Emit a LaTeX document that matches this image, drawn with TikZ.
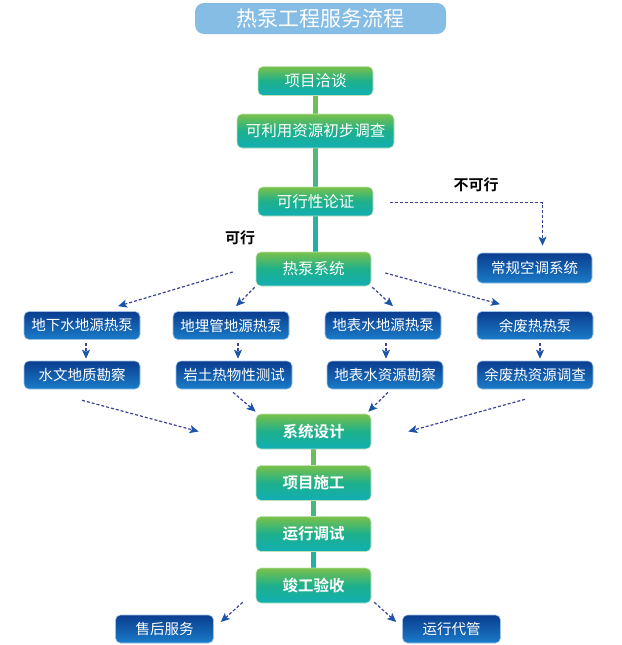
\documentclass[tikz,border=0pt]{standalone}
\usepackage{fontspec}
\setmainfont{Noto Sans CJK SC}[BoldFont={Noto Sans CJK SC Bold}]
\usepackage{xcolor}
\usepackage{tikz}
\usetikzlibrary{arrows.meta,backgrounds}

\definecolor{gTop}{HTML}{7AC14A}
\definecolor{gMid}{HTML}{1DB08C}
\definecolor{gBot}{HTML}{12AEB4}
\definecolor{gEdge}{HTML}{BFE3B5}
\definecolor{bTop}{HTML}{0B3D8F}
\definecolor{bBot}{HTML}{1A7CC8}
\definecolor{bEdge}{HTML}{9FC3E6}
\definecolor{tBlue}{HTML}{86BDE4}
\definecolor{dLine}{HTML}{3A4394}
\definecolor{dHead}{HTML}{1B55A8}

\begin{document}
\begin{tikzpicture}[
    x=1pt, y=-1pt,
    titlebox/.style={fill=tBlue, rounded corners=9pt, text=white, inner sep=0pt, minimum width=251pt, minimum height=31pt, font=\fontsize{21}{24}\selectfont},
    greenbox/.style={draw=gEdge, line width=0.6pt, top color=gTop, bottom color=gBot, middle color=gMid, rounded corners=5pt, text=white, inner sep=0pt, minimum width=115pt, minimum height=29pt, font=\fontsize{15.5}{17}\selectfont},
    stepbox/.style={greenbox, minimum height=35pt, font=\fontsize{15.5}{17}\selectfont\bfseries},
    bluebox/.style={draw=bEdge, line width=0.6pt, top color=bTop, bottom color=bBot, rounded corners=5pt, text=white, inner sep=0pt, minimum width=116pt, minimum height=28pt, font=\fontsize{14.5}{16}\selectfont},
    lbl/.style={text=black, font=\fontsize{15}{17}\selectfont\bfseries},
    vbar/.style={top color=gTop, bottom color=gBot},
    darr/.style={-{Stealth[length=9pt, width=8pt, inset=2pt, color=dHead]}, line width=1.2pt, draw=dLine, dash pattern=on 3pt off 2pt}
]
\useasboundingbox (0,0) rectangle (621,645);

% ===== TITLE =====
\node[titlebox] (title) at (320.5,18.5) {热泵工程服务流程};

% ===== MAIN FLOW =====
\node[greenbox] (xm) at (315.5,81) {项目洽谈};
\node[greenbox, minimum width=157pt, minimum height=34pt] (ky) at (315.5,131) {可利用资源初步调查};
\node[greenbox] (kx) at (315.5,201.5) {可行性论证};
\node[greenbox, minimum height=34pt] (hp) at (313.5,269) {热泵系统};
\node[bluebox, minimum width=115pt, minimum height=30pt] (cg) at (534.5,268) {常规空调系统};

\node[lbl] (nok) at (476,185) {不可行};
\node[lbl] (ok) at (240,238) {可行};

% ===== HEAT PUMP TYPES =====
\node[bluebox] (gw) at (82,325.5) {地下水地源热泵};
\node[bluebox] (gp) at (231,325.5) {地埋管地源热泵};
\node[bluebox] (sw) at (383,325.5) {地表水地源热泵};
\node[bluebox] (wh) at (535,325.5) {余废热热泵};

\node[bluebox] (gw2) at (82,375) {水文地质勘察};
\node[bluebox] (gp2) at (234,375) {岩土热物性测试};
\node[bluebox] (sw2) at (385,375) {地表水资源勘察};
\node[bluebox] (wh2) at (535,375) {余废热资源调查};

% ===== DESIGN AND BUILD =====
\node[stepbox] (sd) at (313.5,431.5) {系统设计};
\node[stepbox] (xs) at (313.5,483) {项目施工};
\node[stepbox] (yt) at (313.5,534) {运行调试};
\node[stepbox] (jg) at (313.5,585.5) {竣工验收};

\node[bluebox, minimum width=98pt] (sh) at (164.5,629) {售后服务};
\node[bluebox, minimum width=98pt] (yx) at (451.5,629) {运行代管};

\begin{scope}[on background layer]
\fill[white] (0,0) rectangle (621,645);
\fill[vbar] ([xshift=-2pt]xm.center) rectangle ([xshift=2pt]kx.center |- hp.center);
\fill[vbar] ([xshift=-2pt]sd.center) rectangle ([xshift=2pt]jg.center);
\end{scope}

% ===== DASHED ARROWS =====
\draw[darr] ([shift={(17,1)}]kx.east) -| ([shift={(8,-7)}]cg.north);

\draw[darr] ([shift={(-23,3)}]hp.west) -- ([shift={(36,-5)}]gw.north);
\draw[darr] ([shift={(-1,1)}]hp.south west) -- ([shift={(5,-5)}]gp.north);
\draw[darr] ([shift={(1,1)}]hp.south east) -- ([shift={(10,-5)}]sw.north);
\draw[darr] ([shift={(14,4)}]hp.east) -- ([shift={(-35,-7)}]wh.north);

\draw[darr, shorten <=3pt, shorten >=2pt] ([xshift=4pt]gw2.north |- gw.south) -- ([xshift=4pt]gw2.north);
\draw[darr, shorten <=3pt, shorten >=2pt] ([xshift=4pt]gp2.north |- gp.south) -- ([xshift=4pt]gp2.north);
\draw[darr, shorten <=3pt, shorten >=2pt] ([xshift=1pt]sw2.north |- sw.south) -- ([xshift=1pt]sw2.north);
\draw[darr, shorten <=3pt, shorten >=2pt] ([xshift=5pt]wh2.north |- wh.south) -- ([xshift=5pt]wh2.north);

\draw[darr] ([shift={(0,11)}]gw2.south) -- ([shift={(-57,0)}]sd.west);
\draw[darr] ([shift={(-1,3)}]gp2.south) -- ([shift={(0,-2)}]sd.north west);
\draw[darr] ([shift={(3,3)}]sw2.south) -- ([shift={(-3,-2)}]sd.north east);
\draw[darr] ([shift={(-10,10)}]wh2.south) -- ([shift={(37,0)}]sd.east);

\draw[darr] ([shift={(-13,-1)}]jg.south west) -- ([shift={(7,-7)}]sh.east);
\draw[darr] ([shift={(3,-1)}]jg.south east) -- ([shift={(-6,-7)}]yx.west);

\end{tikzpicture}
\end{document}
